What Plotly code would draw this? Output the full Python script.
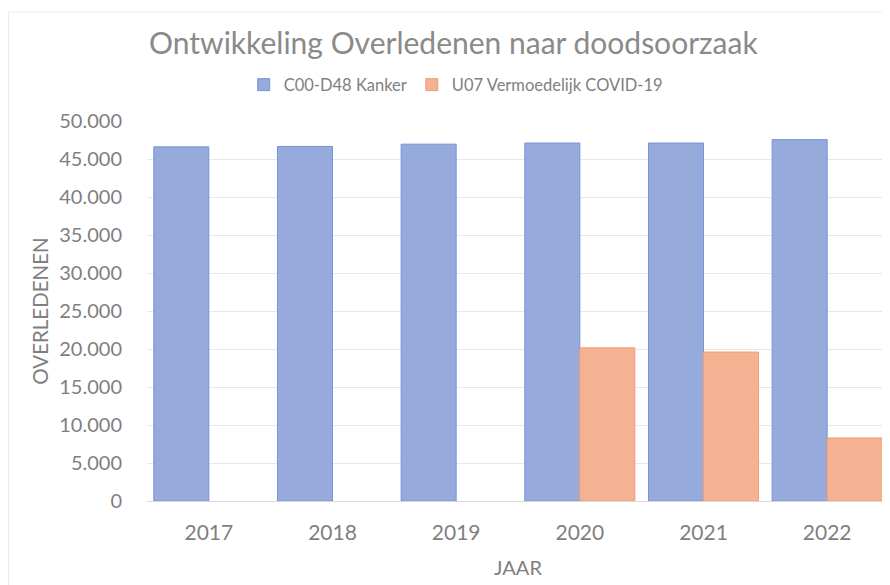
import plotly.graph_objects as go

years = ["2017", "2018", "2019", "2020", "2021", "2022"]
kanker = [46600, 46650, 46950, 47100, 47100, 47550]
covid = [None, None, None, 20150, 19600, 8300]
tick_vals = [0, 5000, 10000, 15000, 20000, 25000, 30000, 35000, 40000, 45000, 50000]
tick_text = ["0", "5.000", "10.000", "15.000", "20.000", "25.000", "30.000",
             "35.000", "40.000", "45.000", "50.000"]

FONT = "Lato, 'Open Sans', sans-serif"
GREY = "#7f7f7f"

fig = go.Figure()
fig.add_trace(go.Bar(
    x=years, y=kanker, name="C00-D48 Kanker",
    marker=dict(color="#96aadc", line=dict(color="#7394d8", width=1)),
))
fig.add_trace(go.Bar(
    x=years, y=covid, name="U07 Vermoedelijk COVID-19",
    marker=dict(color="#f5b292", line=dict(color="#f19f74", width=1)),
))

# page body has an 8px margin, so the figure is sized/offset to compensate
fig.update_layout(
    width=882, height=577,
    paper_bgcolor="white", plot_bgcolor="white",
    margin=dict(l=139, r=1, t=113, b=84, autoexpand=False),
    barmode="group", bargap=0.11, bargroupgap=0,
    font=dict(family=FONT, color=GREY),
    title=dict(text="Ontwikkeling Overledenen naar doodsoorzaak",
               x=0.505, xanchor="center", y=0.938, yanchor="middle",
               font=dict(size=30, color="#8a8a8a", family=FONT)),
    legend=dict(orientation="h", x=0.416, xanchor="center", y=1.095, yanchor="middle",
                font=dict(size=16.5, color=GREY, family=FONT),
                itemwidth=30, traceorder="normal"),
    xaxis=dict(
        title=dict(text="JAAR", font=dict(size=20, color=GREY), standoff=17),
        tickfont=dict(size=21, color=GREY),
        showline=True, linecolor="#d9d9d9", linewidth=1,
        ticks="outside", ticklen=13, tickcolor="white", showgrid=False,
        automargin=False,
    ),
    yaxis=dict(
        title=dict(text="OVERLEDENEN", font=dict(size=20.5, color=GREY), standoff=5),
        range=[0, 50000], tickvals=tick_vals, ticktext=tick_text,
        tickfont=dict(size=20, color=GREY),
        showgrid=True, gridcolor="#e8e8e8", gridwidth=1,
        zeroline=False, ticks="outside", ticklen=20, tickcolor="white",
        automargin=False,
    ),
)
fig.add_shape(type="rect", xref="paper", yref="paper",
              x0=-0.1867, x1=1.1, y0=-0.3, y1=1.287,
              line=dict(color="#ededed", width=1), layer="below")

fig.write_html("out.html")
